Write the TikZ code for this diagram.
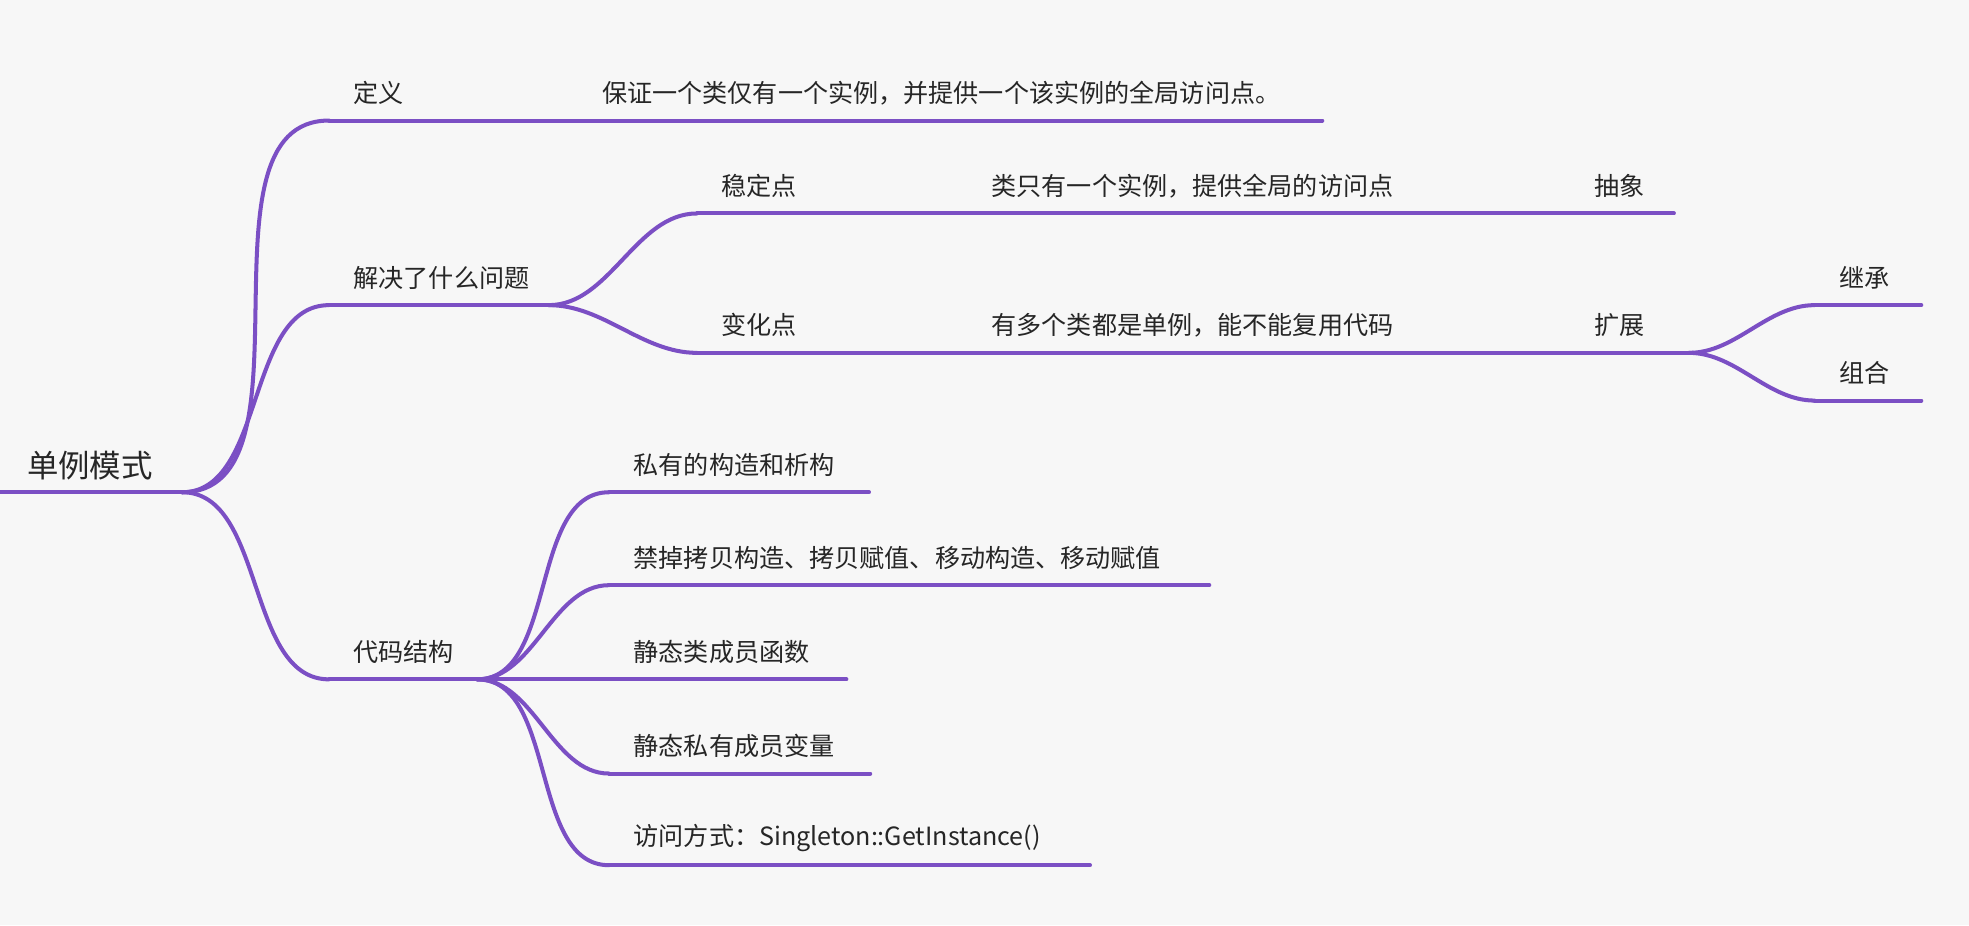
\documentclass[tikz,border=0pt]{standalone}
\usepackage{fontspec}
\newfontfamily\cjk{Noto Sans CJK SC}
\definecolor{branchpurple}{HTML}{7B4FC4}
\definecolor{pagebg}{HTML}{F7F7F7}
\begin{document}
\begin{tikzpicture}[x=0.5pt,y=-0.5pt,line width=1.6pt,draw=branchpurple,line cap=round]
            \tikzstyle{topic}=[anchor=west,inner sep=0pt,font=\cjk\fontsize{10pt}{12pt}\selectfont,text=black!85]
            \tikzstyle{root topic}=[topic,font=\cjk\fontsize{12.5pt}{15pt}\selectfont]
            \tikzstyle{link}=[draw=branchpurple]

            \fill[pagebg] (0,0) rectangle (1568,737);
            \useasboundingbox (0,0) rectangle (1568,737);

            % Draw every topic: its underline from (name-s) to (name-e) and its text
            \foreach \name / \xa / \xb / \y / \txt in {
                root/0/145/392/,
                def/262/460/96/定义,
                defT/460/1053/96/保证一个类仅有一个实例，并提供一个该实例的全局访问点。,
                prob/262/437/243/解决了什么问题,
                stable/555/770/170/稳定点,
                stableT/770/1250/170/类只有一个实例，提供全局的访问点,
                abs/1250/1333/170/抽象,
                change/555/770/281/变化点,
                changeT/770/1250/281/有多个类都是单例，能不能复用代码,
                ext/1250/1345/281/扩展,
                inh/1445/1530/243/继承,
                comp/1445/1530/319/组合,
                code/262/380/541/代码结构,
                c1/485/692/392/私有的构造和析构,
                c2/485/963/466/禁掉拷贝构造、拷贝赋值、移动构造、移动赋值,
                c3/485/674/541/静态类成员函数,
                c4/485/693/616/静态私有成员变量,
                c5/485/868/689/访问方式：Singleton::GetInstance()}
            {
                \coordinate (\name-s) at (\xa,\y);
                \coordinate (\name-e) at (\xb,\y);
                \draw[link] (\name-s) -- (\name-e);
                \node[topic] (\name) at (\xa+18,\y-22) {\txt};
            }
            \node[root topic] (rootT) at (20,371) {单例模式};

            % Connect every parent to its children
            \foreach \from / \to in {root/def,root/prob,root/code,
                    prob/stable,prob/change,ext/inh,ext/comp,
                    code/c1,code/c2,code/c3,code/c4,code/c5}
                \draw[link] (\from-e) to[out=0,in=180,looseness=0.9] (\to-s);
\end{tikzpicture}
\end{document}
